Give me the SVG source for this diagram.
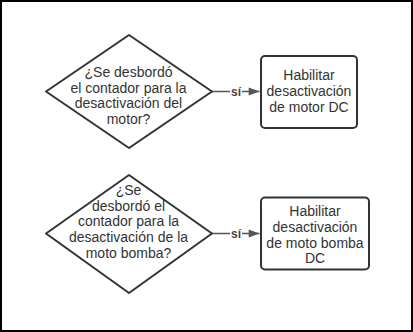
<svg xmlns="http://www.w3.org/2000/svg" width="413" height="332" viewBox="0 0 413 332">
  <style>
    .shape { fill: #ffffff; stroke: #333333; stroke-width: 2; stroke-linejoin: round; }
    .label { font-family: "Liberation Sans", Arial, sans-serif; font-size: 14px; fill: #333333; text-anchor: middle; }
    .edge { stroke: #555555; stroke-width: 1.5; fill: none; }
    .edge-label { font-family: "Liberation Sans", Arial, sans-serif; font-size: 12px; font-weight: bold; fill: #444444; text-anchor: middle; }
  </style>
  <defs>
    <marker id="arrow" viewBox="0 0 12 10" refX="12" refY="5" markerWidth="12" markerHeight="9" markerUnits="userSpaceOnUse" orient="auto">
      <path d="M0,0.5 L12,5 L0,9.5 Z" fill="#555555"/>
    </marker>
  </defs>

  <rect x="0" y="0" width="413" height="332" fill="#ffffff"/>
  <rect x="1" y="1" width="411" height="330" fill="none" stroke="#000000" stroke-width="2"/>

  <g id="connectors">
    <line class="edge" x1="212" y1="91.5" x2="259.5" y2="91.5" marker-end="url(#arrow)"/>
    <rect x="230" y="85" width="12" height="12" fill="#ffffff"/>
    <text class="edge-label" x="236" y="95.5">sí</text>
    <line class="edge" x1="212" y1="233.5" x2="259.5" y2="233.5" marker-end="url(#arrow)"/>
    <rect x="230" y="227" width="12" height="12" fill="#ffffff"/>
    <text class="edge-label" x="236" y="237.5">sí</text>
  </g>

  <g id="decision-motor">
    <polygon class="shape" points="129,35 212,91.5 129,148 46,91.5"/>
    <text class="label" x="128.5" y="77">¿Se desbordó</text>
    <text class="label" x="128.5" y="92.7">el contador para la</text>
    <text class="label" x="128.5" y="108.3">desactivación del</text>
    <text class="label" x="128.5" y="124">motor?</text>
  </g>

  <g id="action-motor">
    <rect class="shape" x="261" y="56" width="96" height="72" rx="4"/>
    <text class="label" x="309" y="80">Habilitar</text>
    <text class="label" x="309" y="95.7">desactivación</text>
    <text class="label" x="309" y="111.5">de motor DC</text>
  </g>

  <g id="decision-pump">
    <polygon class="shape" points="129,175 212,233.5 129,293 46,233.5"/>
    <text class="label" x="128.5" y="195">¿Se</text>
    <text class="label" x="128.5" y="210.7">desbordó el</text>
    <text class="label" x="128.5" y="226.3">contador para la</text>
    <text class="label" x="128.5" y="242">desactivación de la</text>
    <text class="label" x="128.5" y="257.7">moto bomba?</text>
  </g>

  <g id="action-pump">
    <rect class="shape" x="261" y="197.5" width="108" height="72" rx="4"/>
    <text class="label" x="315" y="216">Habilitar</text>
    <text class="label" x="315" y="231.7">desactivación</text>
    <text class="label" x="315" y="247.5">de moto bomba</text>
    <text class="label" x="315" y="263.2">DC</text>
  </g>
</svg>
